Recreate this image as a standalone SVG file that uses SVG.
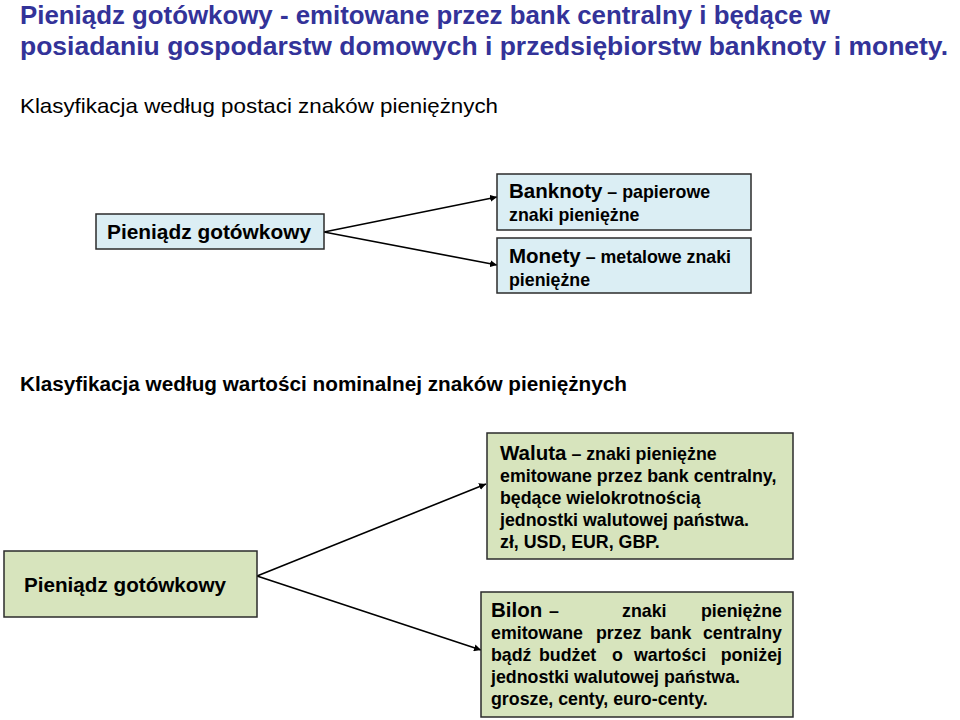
<svg xmlns="http://www.w3.org/2000/svg" width="960" height="720" viewBox="0 0 960 720">
<style>
text{font-family:"Liberation Sans",Arial,sans-serif;fill:#000}
.title{font-size:26px;font-weight:bold;fill:#333399}
.h{font-size:21px}
.h2{font-size:20px;font-weight:bold}
.box{font-size:20px;font-weight:bold}
.b{font-weight:bold;font-size:17.8px}
.hw{font-size:20.5px}
.blue{fill:#dbeef4;stroke:#2b2b2b;stroke-width:1.5}
.green{fill:#d7e4bd;stroke:#2b2b2b;stroke-width:1.5}
.conn{stroke:#000;stroke-width:1.6;fill:none;marker-end:url(#ah)}
</style>
<defs>
<marker id="ah" viewBox="0 0 10 10" refX="10" refY="5" markerWidth="7" markerHeight="7" orient="auto" markerUnits="userSpaceOnUse">
<path d="M0,0 L10,5 L0,10 z" fill="#000"/>
</marker>
</defs>
<rect width="960" height="720" fill="#fff"/>
<g id="title">
<text class="title" x="20" y="24" textLength="810" lengthAdjust="spacingAndGlyphs">Pieniądz gotówkowy - emitowane przez bank centralny i będące w</text>
<text class="title" x="20" y="55" textLength="928" lengthAdjust="spacingAndGlyphs">posiadaniu gospodarstw domowych i przedsiębiorstw banknoty i monety.</text>
</g>
<g id="heading1"><text class="h" x="20" y="113" textLength="478" lengthAdjust="spacingAndGlyphs">Klasyfikacja według postaci znaków pieniężnych</text></g>
<g id="heading2"><text class="h2" x="20" y="391" textLength="607" lengthAdjust="spacingAndGlyphs">Klasyfikacja według wartości nominalnej znaków pieniężnych</text></g>

<g id="connectors">
<line class="conn" x1="324" y1="232" x2="497" y2="197"/>
<line class="conn" x1="324" y1="232" x2="497" y2="265"/>
<line class="conn" x1="257" y1="576" x2="486" y2="484"/>
<line class="conn" x1="257" y1="576" x2="481" y2="650"/>
</g>

<g id="node-gotowkowy1">
<rect class="blue" x="96" y="214" width="228" height="35"/>
<text class="box" x="107" y="239" textLength="204" lengthAdjust="spacingAndGlyphs">Pieniądz gotówkowy</text>
</g>
<g id="node-banknoty">
<rect class="blue" x="497" y="174" width="254" height="56"/>
<text class="b" x="509" y="198"><tspan class="hw">Banknoty</tspan> – papierowe</text>
<text class="b" x="509" y="221">znaki pieniężne</text>
</g>
<g id="node-monety">
<rect class="blue" x="497" y="238" width="254" height="55"/>
<text class="b" x="509" y="263"><tspan class="hw">Monety</tspan> – metalowe znaki</text>
<text class="b" x="509" y="286">pieniężne</text>
</g>

<g id="node-gotowkowy2">
<rect class="green" x="4" y="551" width="253" height="66"/>
<text class="box" x="24" y="592" textLength="202" lengthAdjust="spacingAndGlyphs">Pieniądz gotówkowy</text>
</g>
<g id="node-waluta">
<rect class="green" x="487" y="433" width="306" height="126"/>
<text class="b" x="500" y="460"><tspan class="hw">Waluta</tspan> – znaki pieniężne</text>
<text class="b" x="500" y="482">emitowane przez bank centralny,</text>
<text class="b" x="500" y="504">będące wielokrotnością</text>
<text class="b" x="500" y="526">jednostki walutowej państwa.</text>
<text class="b" x="500" y="548">zł, USD, EUR, GBP.</text>
</g>
<g id="node-bilon">
<rect class="green" x="481" y="592" width="312" height="125"/>
<text class="b" y="617"><tspan class="hw" x="491">Bilon</tspan><tspan x="549">–</tspan><tspan x="622">znaki</tspan><tspan x="782" text-anchor="end">pieniężne</tspan></text>
<text class="b" y="639"><tspan x="491">emitowane</tspan><tspan x="596">przez</tspan><tspan x="650">bank</tspan><tspan x="782" text-anchor="end">centralny</tspan></text>
<text class="b" y="661"><tspan x="491">bądź</tspan><tspan x="539">budżet</tspan><tspan x="612">o</tspan><tspan x="634">wartości</tspan><tspan x="782" text-anchor="end">poniżej</tspan></text>
<text class="b" x="491" y="683">jednostki walutowej państwa.</text>
<text class="b" x="491" y="705">grosze, centy, euro-centy.</text>
</g>
</svg>
